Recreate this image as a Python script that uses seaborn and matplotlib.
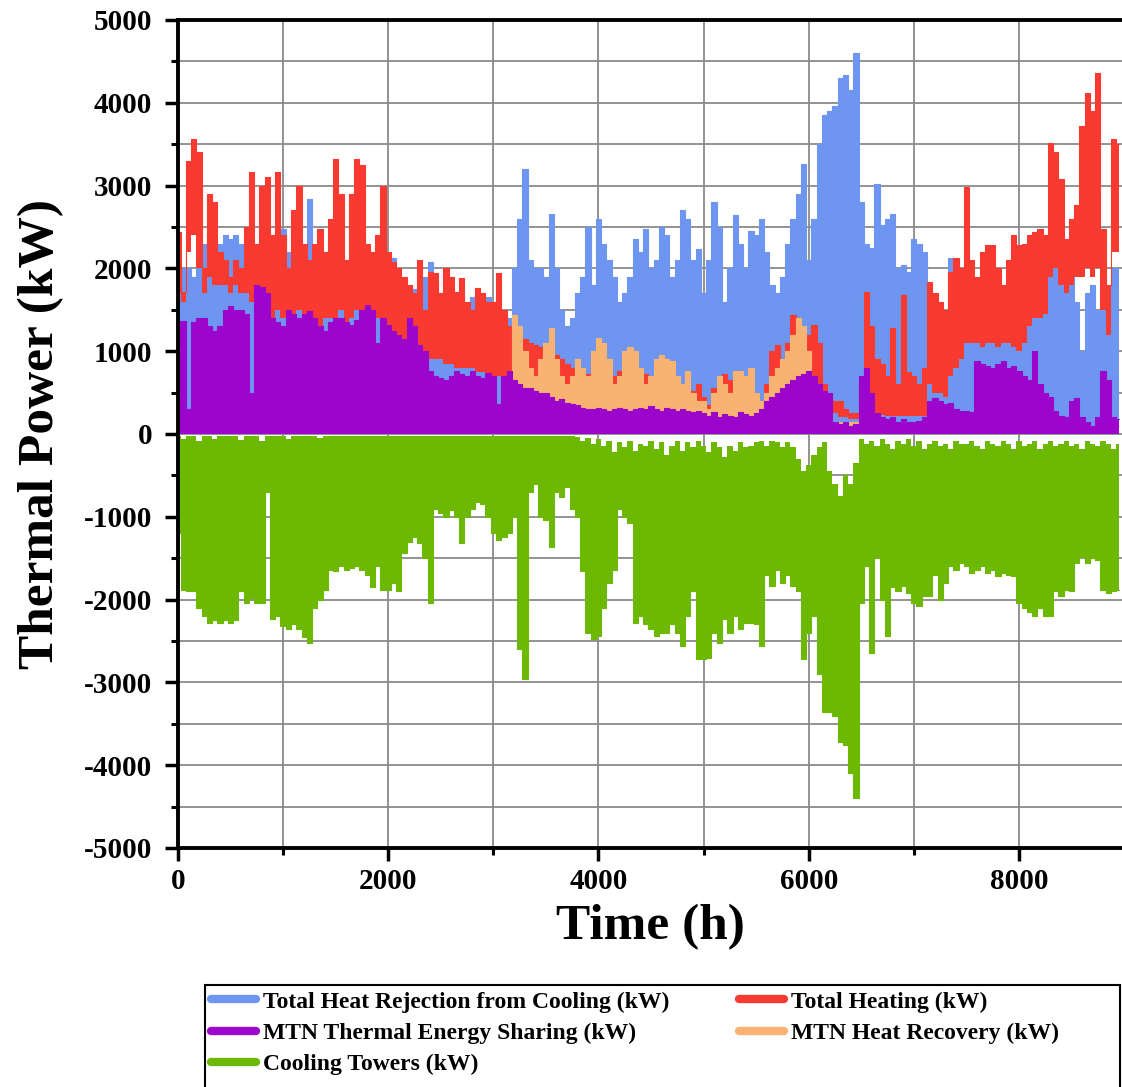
import matplotlib
matplotlib.use("Agg")
import matplotlib.pyplot as plt
from matplotlib.lines import Line2D
from matplotlib.patches import Rectangle
from matplotlib.ticker import MultipleLocator
import seaborn as sns
import pandas as pd

# Hourly simulation summarised in 50 h bins (bin centre, kW)
hours = list(range(0, 9000, 50))

cooling_rejection_high = [
    1700, 2000, 2000, 1900, 2000, 2300, 2400, 2350, 2300, 2400,
    2350, 2400, 2300, 2200, 2100, 2000, 2100, 1900, 2000, 2300,
    2480, 2200, 2000, 2100, 2300, 2840, 2200, 2000, 2100, 2050,
    2000, 1900, 1950, 1800, 1960, 1800, 1700, 1800, 1850, 1900,
    2000, 2120, 1900, 1800, 1700, 1750, 1800, 1900, 2080, 1850,
    1700, 1650, 1600, 1700, 1750, 1560, 1650, 1700, 1600, 1650,
    1500, 1300, 1200, 1400, 2000, 2600, 3200, 2100, 2000, 2000,
    1900, 2660, 2000, 1500, 1300, 1400, 1700, 1900, 2500, 1800,
    2600, 2300, 2100, 1900, 1600, 1700, 1900, 2360, 2200, 2480,
    2000, 2100, 2500, 2400, 1900, 2100, 2700, 2600, 2100, 2240,
    1700, 2100, 2800, 2500, 1600, 2000, 2640, 2300, 2000, 2450,
    2400, 2600, 2200, 1800, 1700, 1900, 2300, 2600, 2900, 3260,
    2100, 2600, 3500, 3850, 3900, 3960, 4300, 4340, 4150, 4600,
    2800, 2300, 2250, 3020, 2520, 2600, 2660, 2000, 2040, 1960,
    2360, 2300, 2200, 1400, 1300, 1200, 1400, 2120, 1300, 1100,
    1200, 1300, 1200, 1100, 1300, 1200, 1400, 1300, 1200, 1500,
    1400, 1500, 1800, 2300, 2400, 2300, 2200, 2000, 2100, 1800,
    1900, 1600, 1000, 1700, 1800, 1500, 1900, 1700, 2000, 2000,
]

heating_high = [
    2440, 1720, 3300, 3560, 3400, 2000, 2900, 2800, 2200, 2100,
    1900, 2100, 2000, 2500, 3160, 2300, 3000, 3100, 2400, 3160,
    2400, 2000, 2700, 3000, 2300, 2100, 2300, 2480, 2200, 2600,
    3320, 2900, 2100, 2900, 3320, 3250, 2300, 2200, 2400, 3000,
    2200, 2080, 2000, 1900, 1800, 1700, 2100, 1500, 1960, 1950,
    1700, 2000, 1900, 1720, 1880, 1600, 1500, 1760, 1700, 1600,
    1600, 1940, 1500, 1300, 1250, 1200, 1150, 1100, 1080, 1050,
    1000, 1050, 950, 900, 850, 800, 760, 700, 720, 900,
    920, 850, 800, 700, 760, 650, 800, 700, 750, 720,
    600, 700, 650, 560, 720, 600, 550, 650, 520, 600,
    450, 350, 550, 400, 720, 650, 550, 480, 600, 450,
    500, 400, 600, 1000, 1080, 800, 1100, 1440, 1000, 900,
    1200, 1320, 1100, 600, 500, 400, 400, 300, 250, 250,
    600, 1720, 1300, 900, 840, 700, 1280, 600, 1680, 750,
    700, 600, 800, 1840, 1700, 1600, 1500, 1960, 2120, 2000,
    2980, 2100, 1900, 2200, 2280, 2280, 2000, 1800, 2100, 2400,
    2280, 2300, 2400, 2440, 2480, 2400, 3520, 3400, 3080, 2360,
    2600, 2760, 3720, 4120, 3900, 4360, 2480, 1800, 3560, 3500,
]

heating_low = [
    1700, 1600, 2200, 2400, 2000, 1700, 1900, 1800, 1800, 1800,
    1700, 1800, 1700, 1700, 1600, 1500, 1400, 1500, 1400, 1500,
    1400, 1300, 1400, 1500, 1300, 1300, 1400, 1300, 1400, 1400,
    1400, 1500, 1300, 1400, 1500, 1400, 1300, 1300, 1400, 1300,
    1300, 1200, 1200, 1100, 1100, 1000, 1000, 900, 900, 900,
    900, 850, 850, 800, 800, 800, 800, 750, 750, 700,
    700, 700, 650, 650, 600, 600, 600, 550, 550, 500,
    500, 450, 450, 400, 400, 380, 350, 350, 300, 300,
    300, 300, 280, 280, 300, 280, 300, 280, 300, 280,
    280, 260, 260, 250, 260, 250, 240, 250, 240, 250,
    230, 220, 230, 220, 240, 230, 220, 230, 220, 230,
    250, 260, 300, 350, 400, 400, 450, 500, 500, 500,
    500, 500, 450, 350, 300, 250, 200, 200, 180, 180,
    250, 300, 280, 250, 230, 220, 220, 220, 220, 220,
    220, 220, 220, 600, 500, 500, 450, 700, 800, 900,
    1100, 1100, 1100, 1050, 1100, 1100, 1050, 1100, 1100, 1050,
    1000, 1100, 1300, 1400, 1400, 1450, 1900, 2000, 1800, 1700,
    1800, 1900, 1900, 2000, 1900, 2000, 1500, 1200, 2200, 2200,
]

heat_recovery_high = [
    120, 100, 140, 110, 130, 100, 120, 140, 110, 120,
    120, 100, 140, 110, 130, 100, 120, 140, 110, 120,
    120, 100, 140, 110, 130, 100, 120, 140, 110, 120,
    120, 100, 140, 110, 130, 100, 120, 140, 110, 120,
    120, 100, 140, 110, 130, 100, 120, 140, 110, 120,
    120, 100, 140, 110, 130, 100, 120, 140, 110, 120,
    150, 150, 200, 300, 1440, 1300, 1000, 800, 700, 900,
    1100, 1280, 900, 700, 600, 700, 900, 800, 700, 1000,
    1160, 1100, 900, 600, 700, 1000, 1050, 1000, 800, 600,
    700, 900, 960, 900, 880, 700, 600, 760, 500, 400,
    400, 300, 500, 700, 600, 500, 760, 760, 700, 800,
    500, 400, 500, 700, 800, 900, 1000, 1200, 1400, 1300,
    1000, 700, 500, 400, 150, 150, 150, 150, 150, 150,
    100, 100, 100, 100, 100, 100, 100, 100, 100, 100,
    100, 100, 100, 100, 100, 100, 100, 100, 100, 100,
    100, 100, 100, 100, 100, 100, 100, 100, 100, 100,
    100, 100, 100, 100, 100, 100, 100, 100, 100, 100,
    100, 100, 100, 100, 100, 100, 100, 100, 100, 100,
]

energy_sharing_high = [
    1360, 1360, 300, 1350, 1400, 1400, 1300, 1250, 1300, 1500,
    1540, 1500, 1500, 1450, 500, 1800, 1780, 1700, 1400, 1350,
    1300, 1500, 1450, 1400, 1450, 1480, 1400, 1300, 1250, 1350,
    1400, 1400, 1350, 1320, 1380, 1500, 1560, 1500, 1100, 1400,
    1320, 1250, 1200, 1150, 1400, 1300, 1080, 1000, 760, 700,
    680, 650, 700, 760, 720, 700, 760, 700, 680, 740,
    700, 360, 700, 760, 650, 600, 560, 550, 520, 500,
    500, 450, 400, 420, 380, 360, 350, 320, 300, 300,
    320, 300, 280, 300, 320, 300, 280, 300, 320, 300,
    340, 300, 280, 320, 300, 280, 300, 280, 260, 280,
    250, 220, 260, 200, 240, 220, 200, 260, 240, 220,
    250, 300, 400, 450, 500, 550, 600, 650, 700, 720,
    760, 700, 600, 520, 500, 150, 120, 150, 100, 120,
    700, 800, 500, 250, 200, 180, 200, 150, 180, 150,
    150, 160, 200, 400, 440, 400, 360, 380, 300, 280,
    280, 260, 880, 850, 820, 800, 850, 880, 800, 820,
    760, 700, 650, 1000, 600, 500, 450, 280, 220, 200,
    400, 440, 200, 150, 100, 200, 760, 650, 200, 180,
]

cooling_towers_low = [
    -1200, -1880, -1900, -1900, -2100, -2200, -2280, -2250, -2280, -2250,
    -2280, -2250, -1900, -2040, -1980, -2040, -2040, -700, -2240, -2200,
    -2320, -2360, -2300, -2360, -2450, -2520, -2100, -2000, -1880, -1640,
    -1650, -1600, -1640, -1620, -1600, -1640, -1700, -1850, -1600, -1880,
    -1880, -1800, -1900, -1440, -1300, -1240, -1320, -1500, -2040, -900,
    -950, -1000, -920, -1000, -1320, -1000, -900, -820, -840, -1000,
    -1200, -1280, -1240, -1200, -1000, -2600, -2960, -700, -600, -1000,
    -1040, -1360, -700, -760, -640, -900, -1000, -1660, -2400, -2480,
    -2440, -2100, -1800, -1640, -900, -1000, -1080, -2280, -2200, -2300,
    -2360, -2440, -2400, -2400, -2300, -2400, -2560, -2200, -1900, -2720,
    -2720, -2700, -2400, -2520, -2240, -2400, -2200, -2360, -2280, -2280,
    -2300, -2560, -1700, -1840, -1640, -1800, -1700, -1840, -1900, -2720,
    -2400, -2200, -2900, -3360, -3360, -3400, -3720, -3760, -4100, -4400,
    -2040, -1600, -2640, -1500, -2000, -2440, -1850, -1900, -1840, -1920,
    -2040, -2080, -1960, -1960, -1700, -2000, -1800, -1600, -1640, -1560,
    -1600, -1680, -1640, -1600, -1680, -1640, -1720, -1680, -1700, -1720,
    -2040, -2100, -2150, -2200, -2100, -2200, -2200, -1900, -1960, -1880,
    -1900, -1560, -1480, -1560, -1500, -1520, -1880, -1920, -1900, -1880,
]

cooling_towers_top = [
    -25, -60, -25, -25, -80, -25, -25, -60, -25, -25,
    -25, -25, -70, -25, -25, -25, -90, -25, -25, -25,
    -25, -60, -25, -25, -25, -25, -25, -50, -25, -25,
    -25, -25, -25, -25, -25, -25, -25, -25, -25, -25,
    -25, -25, -25, -25, -25, -25, -25, -25, -25, -25,
    -25, -25, -25, -25, -25, -25, -25, -25, -25, -25,
    -25, -25, -25, -25, -25, -25, -25, -25, -25, -25,
    -25, -25, -25, -25, -25, -25, -40, -80, -50, -120,
    -60, -150, -80, -220, -100, -160, -80, -200, -120, -150,
    -80, -180, -100, -250, -140, -80, -200, -100, -160, -80,
    -140, -220, -100, -160, -280, -140, -200, -100, -160, -140,
    -100, -80, -140, -80, -100, -160, -100, -160, -300, -450,
    -380, -250, -160, -100, -450, -600, -750, -500, -600, -350,
    -60, -120, -80, -150, -60, -120, -180, -80, -120, -60,
    -150, -80, -180, -120, -80, -150, -120, -180, -80, -120,
    -120, -80, -150, -180, -80, -120, -150, -80, -120, -180,
    -80, -150, -120, -80, -180, -120, -80, -150, -120, -80,
    -150, -120, -180, -80, -120, -150, -80, -120, -180, -120,
]

zeros = [0] * len(hours)

series_names = [
    "Total Heat Rejection from Cooling (kW)",
    "Total Heating (kW)",
    "MTN Heat Recovery (kW)",
    "MTN Thermal Energy Sharing (kW)",
    "Cooling Towers (kW)",
]
series_colors = ["#6E96F0", "#F83A30", "#F8B272", "#9B05CC", "#6CB802"]
series_low = [zeros, heating_low, zeros, zeros, cooling_towers_low]
series_high = [cooling_rejection_high, heating_high, heat_recovery_high,
               energy_sharing_high, cooling_towers_top]

sns.set_theme(style="white")
plt.rcParams["font.family"] = ["Liberation Serif", "DejaVu Serif"]
plt.rcParams["font.weight"] = "bold"
plt.rcParams["axes.unicode_minus"] = False
for key in ["text.color", "axes.labelcolor", "xtick.color", "ytick.color"]:
    plt.rcParams[key] = "black"

fig = plt.figure(figsize=(11.22, 10.87), dpi=100)
ax = fig.add_axes([178 / 1122, 1 - 848 / 1087, 1 - 178 / 1122, (848 - 20) / 1087])

for name, color, lo, hi in zip(series_names, series_colors, series_low, series_high):
    df = pd.DataFrame({"hour": hours, "low": lo, "high": hi})
    ax.fill_between(df["hour"], df["low"], df["high"], step="mid",
                    color=color, linewidth=0, zorder=2)
    edge = df["high"] if name != "Cooling Towers (kW)" else df["low"]
    sns.lineplot(x=df["hour"], y=edge, drawstyle="steps-mid", color=color,
                 linewidth=0.8, estimator=None, legend=False, ax=ax, zorder=2)

ax.set_xlim(0, 8980)
ax.set_ylim(-5000, 5000)
ax.xaxis.set_major_locator(MultipleLocator(2000))
ax.xaxis.set_minor_locator(MultipleLocator(1000))
ax.yaxis.set_major_locator(MultipleLocator(1000))
ax.yaxis.set_minor_locator(MultipleLocator(500))

ax.set_axisbelow(True)
ax.grid(which="both", axis="both", color="#8a8a8a", linewidth=1.3)

for side in ["left", "bottom", "top"]:
    ax.spines[side].set_visible(True)
    ax.spines[side].set_color("black")
    ax.spines[side].set_linewidth(2.8)
ax.spines["right"].set_visible(False)

ax.tick_params(axis="both", which="major", direction="out", length=9.5, width=2.5,
               color="black", labelsize=21, bottom=True, left=True)
ax.tick_params(axis="both", which="minor", direction="out", length=5, width=2.2,
               color="black", bottom=True, left=True)
ax.tick_params(axis="y", which="major", pad=9)
ax.tick_params(axis="x", which="major", pad=5)
for lab in ax.get_xticklabels() + ax.get_yticklabels():
    lab.set_fontweight("bold")

ax.set_xlabel("Time (h)", fontsize=37, fontweight="bold", labelpad=6)
ax.set_ylabel("Thermal Power (kW)", fontsize=37, fontweight="bold", labelpad=14)

# Legend: frame runs past the lower edge of the figure
fig.patches.append(Rectangle((205 / 1122, -0.05), (1120 - 205) / 1122, 0.05 + 1 - 985 / 1087,
                             transform=fig.transFigure, facecolor="white",
                             edgecolor="black", linewidth=1.5, zorder=0))
handles = [Line2D([], [], color=series_colors[i], linewidth=6, solid_capstyle="round")
           for i in (0, 3, 4, 1, 2)]
labels = [series_names[i] for i in (0, 3, 4, 1, 2)]
leg = fig.legend(handles, labels, ncol=2, loc="upper left",
                 bbox_to_anchor=(211 / 1122, 1 - 991 / 1087),
                 frameon=False,
                 prop={"family": ["Liberation Serif"], "weight": "bold", "size": 17},
                 handlelength=1.9, handletextpad=0.3, labelspacing=0.42,
                 columnspacing=2.95, borderaxespad=0, borderpad=0)

fig.savefig("out.png", dpi=100)
